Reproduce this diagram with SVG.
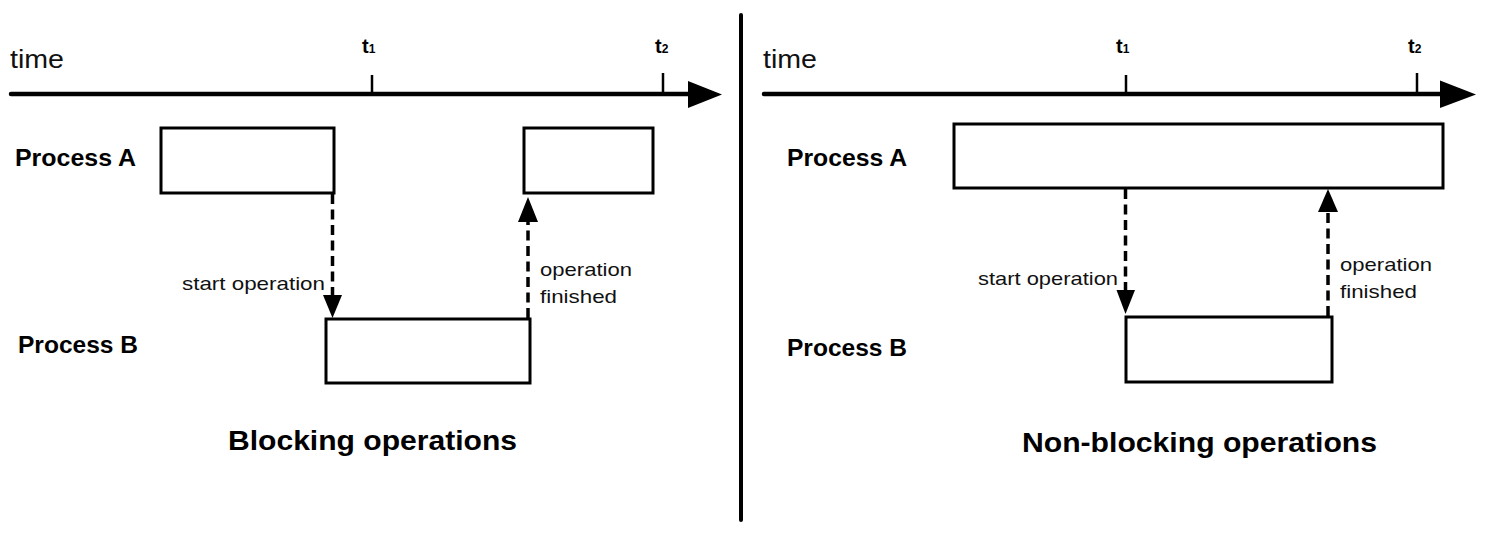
<svg xmlns="http://www.w3.org/2000/svg" width="1508" height="549" viewBox="0 0 1508 549">
  <defs>
    <style>
      .axis { stroke: #000; stroke-width: 4.5; fill: none; stroke-linecap: round; }
      .tick { stroke: #000; stroke-width: 2.5; fill: none; }
      .box { fill: #fff; stroke: #000; stroke-width: 3; }
      .dash { stroke: #000; stroke-width: 3.5; fill: none; stroke-dasharray: 10 5.5; }
      .head { fill: #000; stroke: none; }
      .divider { stroke: #000; stroke-width: 4; stroke-linecap: round; }
      .lbl { font-family: "Liberation Sans", Arial, sans-serif; fill: #111; }
      .bold { font-family: "Liberation Sans", Arial, sans-serif; font-weight: bold; fill: #000; }
    </style>
  </defs>
  <rect width="1508" height="549" fill="#fff"/>

  <!-- divider between the two panels -->
  <line class="divider" x1="741" y1="15" x2="741" y2="520"/>

  <!-- ===== Left panel: blocking ===== -->
  <g id="axis-left">
    <text class="lbl" x="10" y="68" font-size="26" textLength="54" lengthAdjust="spacingAndGlyphs">time</text>
    <line class="axis" x1="11" y1="94" x2="695" y2="94"/>
    <polygon class="head" points="688,81 722,94.5 688,108"/>
    <line class="tick" x1="372" y1="75" x2="372" y2="94"/>
    <line class="tick" x1="663" y1="73" x2="663" y2="94"/>
    <text class="bold" x="362" y="53" font-size="20">t<tspan font-size="12">1</tspan></text>
    <text class="bold" x="655" y="53" font-size="20">t<tspan font-size="12">2</tspan></text>
  </g>

  <g id="label-process-a-left">
    <text class="bold" x="15" y="166" font-size="23" textLength="121" lengthAdjust="spacingAndGlyphs">Process A</text>
  </g>
  <g id="label-process-b-left">
    <text class="bold" x="18" y="353" font-size="23" textLength="120" lengthAdjust="spacingAndGlyphs">Process B</text>
  </g>

  <g id="process-a-left-1">
    <rect class="box" x="161" y="128" width="173" height="65"/>
  </g>
  <g id="process-a-left-2">
    <rect class="box" x="524" y="128" width="129" height="65"/>
  </g>
  <g id="process-b-left">
    <rect class="box" x="326" y="319" width="204" height="64"/>
  </g>

  <g id="connectors-left">
    <line class="dash" x1="332.5" y1="194" x2="332.5" y2="296"/>
    <polygon class="head" points="323,295 342,295 332.5,318"/>
    <line class="dash" x1="528" y1="318" x2="528" y2="222"/>
    <polygon class="head" points="518,222 538,222 528,197"/>
    <text class="lbl" x="182" y="290" font-size="19" textLength="143" lengthAdjust="spacingAndGlyphs">start operation</text>
    <text class="lbl" x="540" y="276" font-size="19" textLength="92" lengthAdjust="spacingAndGlyphs">operation</text>
    <text class="lbl" x="540" y="303" font-size="19" textLength="77" lengthAdjust="spacingAndGlyphs">finished</text>
  </g>

  <g id="title-left">
    <text class="bold" x="228" y="450" font-size="27" textLength="289" lengthAdjust="spacingAndGlyphs">Blocking operations</text>
  </g>

  <!-- ===== Right panel: non-blocking ===== -->
  <g id="axis-right">
    <text class="lbl" x="763" y="68" font-size="26" textLength="54" lengthAdjust="spacingAndGlyphs">time</text>
    <line class="axis" x1="764" y1="94" x2="1445" y2="94"/>
    <polygon class="head" points="1440,80.5 1476,94.5 1440,108"/>
    <line class="tick" x1="1126" y1="75" x2="1126" y2="94"/>
    <line class="tick" x1="1417" y1="73" x2="1417" y2="94"/>
    <text class="bold" x="1116" y="53" font-size="20">t<tspan font-size="12">1</tspan></text>
    <text class="bold" x="1408" y="53" font-size="20">t<tspan font-size="12">2</tspan></text>
  </g>

  <g id="label-process-a-right">
    <text class="bold" x="787" y="166" font-size="23" textLength="120" lengthAdjust="spacingAndGlyphs">Process A</text>
  </g>
  <g id="label-process-b-right">
    <text class="bold" x="787" y="356" font-size="23" textLength="120" lengthAdjust="spacingAndGlyphs">Process B</text>
  </g>

  <g id="process-a-right">
    <rect class="box" x="954" y="124" width="489" height="64"/>
  </g>
  <g id="process-b-right">
    <rect class="box" x="1126" y="317" width="206" height="65"/>
  </g>

  <g id="connectors-right">
    <line class="dash" x1="1125.5" y1="189" x2="1125.5" y2="291"/>
    <polygon class="head" points="1116.5,290 1135,290 1125.5,314"/>
    <line class="dash" x1="1328" y1="316" x2="1328" y2="212"/>
    <polygon class="head" points="1318,212 1338,212 1328,189"/>
    <text class="lbl" x="978" y="285" font-size="19" textLength="140" lengthAdjust="spacingAndGlyphs">start operation</text>
    <text class="lbl" x="1340" y="271" font-size="19" textLength="92" lengthAdjust="spacingAndGlyphs">operation</text>
    <text class="lbl" x="1340" y="298" font-size="19" textLength="77" lengthAdjust="spacingAndGlyphs">finished</text>
  </g>

  <g id="title-right">
    <text class="bold" x="1022" y="452" font-size="27" textLength="355" lengthAdjust="spacingAndGlyphs">Non-blocking operations</text>
  </g>
</svg>
